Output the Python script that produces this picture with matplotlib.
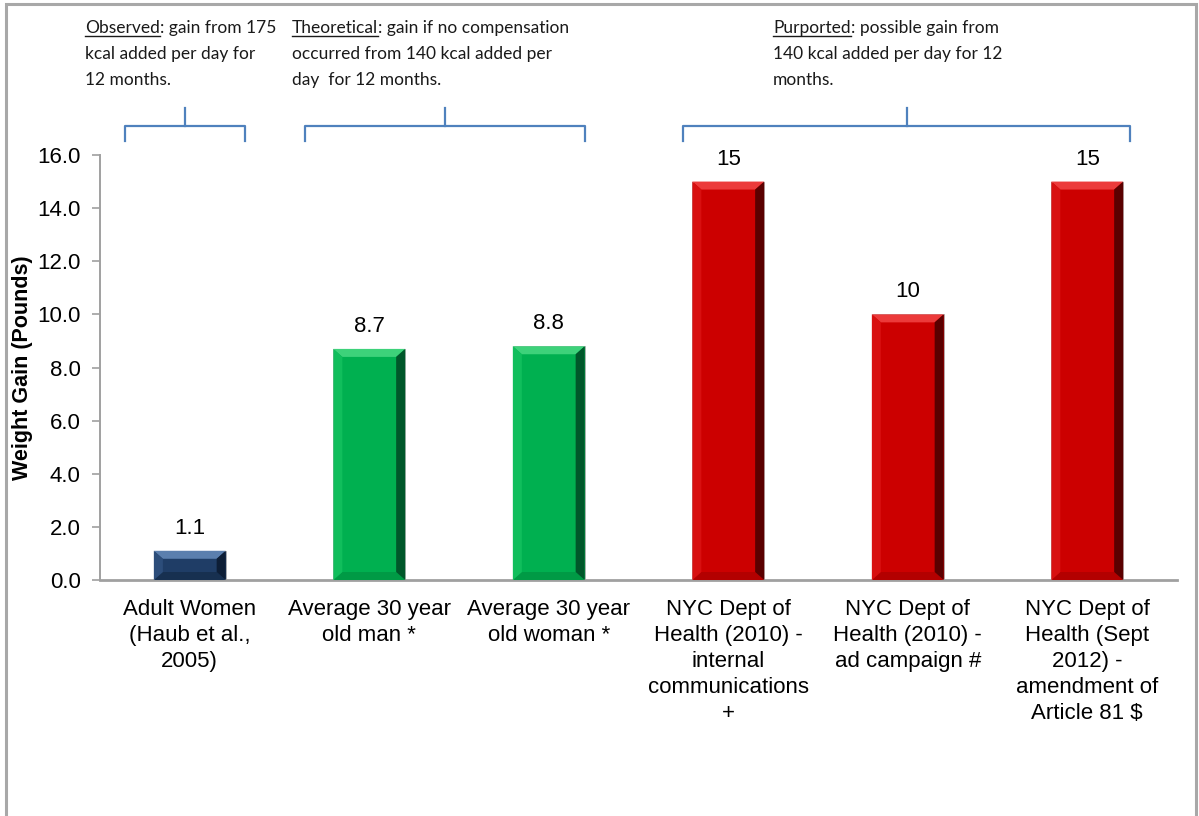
import matplotlib

matplotlib.use("Agg")
import matplotlib.pyplot as plt
from matplotlib.patches import Polygon, Rectangle
from matplotlib.lines import Line2D
import matplotlib.transforms as mtransforms

CATEGORIES = [
    "Adult Women\n(Haub et al.,\n2005)",
    "Average 30 year\nold man *",
    "Average 30 year\nold woman *",
    "NYC Dept of\nHealth (2010) -\ninternal\ncommunications\n+",
    "NYC Dept of\nHealth (2010) -\nad campaign #",
    "NYC Dept of\nHealth (Sept\n2012) -\namendment of\nArticle 81 $",
]
VALUES = [1.1, 8.7, 8.8, 15, 10, 15]
VALUE_LABELS = ["1.1", "8.7", "8.8", "15", "10", "15"]
GROUP = ["observed", "theoretical", "theoretical", "purported", "purported", "purported"]

# base, top bevel, bottom bevel, left bevel, right bevel
PALETTE = {
    "observed": ("#1f3d66", "#5b7fae", "#173050", "#2c4d7a", "#0d1e36"),
    "theoretical": ("#00b050", "#3dd27a", "#009a45", "#10be5c", "#00572a"),
    "purported": ("#cc0000", "#ec3a3a", "#b30000", "#d81010", "#5a0000"),
}

# bracket spans (category units) and heading text for each group
BRACKETS = [(-0.36, 0.31), (0.64, 2.2), (2.75, 5.24)]
HEAD_WORDS = ["Observed", "Theoretical", "Purported"]
HEAD_LINES = [
    [": gain from 175", "kcal added per day for", "12 months."],
    [": gain if no compensation", "occurred from 140 kcal added per", "day  for 12 months."],
    [": possible gain from", "140 kcal added per day for 12", "months."],
]
HEAD_X = [85, 292, 773]
HEAD_BASELINES = [33, 59, 85]

plt.rcParams["font.family"] = ["Liberation Sans", "DejaVu Sans"]

W, H = 1199, 816
fig = plt.figure(figsize=(W / 100, H / 100), dpi=100)
ax = fig.add_axes([100 / W, 1 - 580 / H, 1077 / W, 425 / H])

x = list(range(len(VALUES)))
width = 0.4
ax.set_xlim(-0.5, len(VALUES) - 0.5)
ax.set_ylim(0, 16)

# bevel size in pixels converted to data units
inv = ax.transData.inverted()
p0 = inv.transform((0, 0))
p1 = inv.transform((9, 8))
bx, by = p1[0] - p0[0], p1[1] - p0[1]

for xi, val, grp in zip(x, VALUES, GROUP):
    base, top, bot, left, right = PALETTE[grp]
    x0, x1 = xi - width / 2, xi + width / 2
    y0, y1 = 0, val
    ax.bar(xi, val, width, color=base, edgecolor="#b0b0b0", linewidth=0.6, zorder=2)
    b_y = min(by, val / 2.5)
    polys = [
        ([(x0, y1), (x1, y1), (x1 - bx, y1 - b_y), (x0 + bx, y1 - b_y)], top),
        ([(x0, y0), (x1, y0), (x1 - bx, y0 + b_y), (x0 + bx, y0 + b_y)], bot),
        ([(x0, y0), (x0 + bx, y0 + b_y), (x0 + bx, y1 - b_y), (x0, y1)], left),
        ([(x1, y0), (x1 - bx, y0 + b_y), (x1 - bx, y1 - b_y), (x1, y1)], right),
    ]
    for pts, col in polys:
        ax.add_patch(Polygon(pts, closed=True, facecolor=col, edgecolor="none", zorder=3))
    ax.text(xi, val + 0.45, VALUE_LABELS[xi], ha="center", va="bottom", fontsize=16)

ax.set_xticks(x)
ax.set_xticklabels(CATEGORIES, fontsize=16, linespacing=1.3, va="top")
ax.tick_params(axis="x", length=0, pad=14)
yticks = [0, 2, 4, 6, 8, 10, 12, 14, 16]
ax.set_yticks(yticks)
ax.set_yticklabels([f"{v:.1f}" for v in yticks], fontsize=16)
ax.tick_params(axis="y", length=6, width=1.2, color="#a0a0a0", pad=8, direction="out")
for side in ("top", "right"):
    ax.spines[side].set_visible(False)
ax.spines["left"].set_color("#a0a0a0")
ax.spines["bottom"].set_color("#a0a0a0")
ax.spines["left"].set_linewidth(1.4)
ax.spines["bottom"].set_linewidth(2)
ax.set_ylabel("Weight Gain (Pounds)", fontsize=15.5, fontweight="bold")
ax.yaxis.set_label_coords(-0.062, 0.5)

# group brackets
trans = mtransforms.blended_transform_factory(ax.transData, ax.transAxes)
bcol = "#4f81bd"
for lo, hi in BRACKETS:
    mid = (lo + hi) / 2
    kw = dict(transform=trans, color=bcol, linewidth=1.6, clip_on=False)
    ax.add_line(Line2D([lo, lo, hi, hi], [1.033, 1.068, 1.068, 1.033], **kw))
    ax.add_line(Line2D([mid, mid], [1.068, 1.111], **kw))

# group headings with underlined first word
head_font = dict(family=["Lato", "DejaVu Sans"], fontsize=12.5, color="#1a1a1a")
heads = []
for word, lines, px in zip(HEAD_WORDS, HEAD_LINES, HEAD_X):
    t1 = fig.text(px / W, 1 - HEAD_BASELINES[0] / H, word, va="baseline", ha="left", **head_font)
    ax.annotate(lines[0], xy=(1, 0), xycoords=t1, va="bottom", ha="left",
                annotation_clip=False, **head_font)
    for line, base_y in zip(lines[1:], HEAD_BASELINES[1:]):
        fig.text(px / W, 1 - base_y / H, line, va="baseline", ha="left", **head_font)
    heads.append(t1)

fig.canvas.draw()
renderer = fig.canvas.get_renderer()
for t1 in heads:
    bb = t1.get_window_extent(renderer)
    yline = 1 - (HEAD_BASELINES[0] + 3) / H
    fig.add_artist(Line2D([bb.x0 / W, bb.x1 / W], [yline, yline],
                          transform=fig.transFigure, color="#1a1a1a", linewidth=1.0))

# outer frame
fig.add_artist(Rectangle((5.5 / W, -0.05), (1196 - 5.5) / W, 1.05 - 3.5 / H,
                         transform=fig.transFigure, fill=False,
                         edgecolor="#a8a8a8", linewidth=2.2))

fig.savefig("out.png", dpi=100)
